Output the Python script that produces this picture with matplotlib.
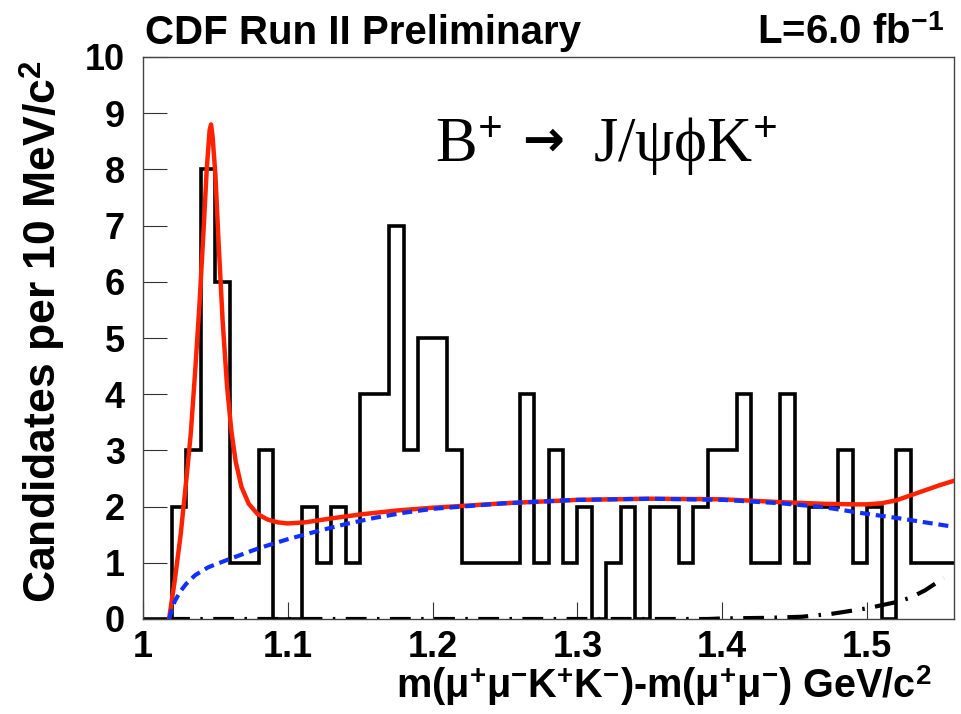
import numpy as np
import matplotlib
matplotlib.use("Agg")
import matplotlib.pyplot as plt

# histogram contents, 10 MeV bins from 1.00 to 1.56
bin_edges = np.linspace(1.0, 1.56, 57)
counts = [0, 0, 2, 3, 8, 6, 1, 1, 3, 0,
          0, 2, 1, 2, 1, 4, 4, 7, 3, 5,
          5, 3, 1, 1, 1, 1, 4, 1, 3, 1,
          2, 0, 1, 2, 0, 2, 2, 1, 2, 3,
          3, 4, 1, 1, 4, 1, 2, 2, 3, 1,
          2, 0, 3, 1, 1, 1]

# total fit (red)
fit_x = [1.018, 1.022, 1.026, 1.030, 1.033, 1.036, 1.039, 1.042, 1.044, 1.046,
         1.047, 1.048, 1.050, 1.052, 1.055, 1.058, 1.061, 1.064, 1.068, 1.073,
         1.079, 1.086, 1.093, 1.100, 1.112, 1.130, 1.150, 1.175, 1.200, 1.250,
         1.300, 1.350, 1.400, 1.440, 1.470, 1.490, 1.500, 1.510, 1.520, 1.530,
         1.540, 1.550, 1.560]
fit_y = [0.0, 0.7, 1.5, 2.5, 3.3, 4.4, 5.6, 7.0, 8.0, 8.7,
         8.8, 8.6, 7.9, 6.8, 5.3, 4.15, 3.35, 2.8, 2.35, 2.05,
         1.87, 1.77, 1.72, 1.70, 1.72, 1.79, 1.86, 1.93, 1.98, 2.06,
         2.12, 2.14, 2.13, 2.08, 2.05, 2.04, 2.04, 2.06, 2.11, 2.20,
         2.29, 2.38, 2.46]

# background (blue dashed)
bkg_x = [1.018, 1.020, 1.022, 1.026, 1.030, 1.036, 1.045, 1.060, 1.080, 1.100,
         1.120, 1.140, 1.160, 1.180, 1.200, 1.250, 1.300, 1.350, 1.400, 1.440,
         1.470, 1.500, 1.520, 1.540, 1.560]
bkg_y = [0.0, 0.18, 0.32, 0.5, 0.63, 0.78, 0.92, 1.07, 1.26, 1.42,
         1.56, 1.69, 1.80, 1.89, 1.96, 2.06, 2.12, 2.14, 2.12, 2.06,
         1.99, 1.87, 1.80, 1.72, 1.64]

# other component (black dash-dot)
oth_x = [1.018, 1.390, 1.400, 1.430, 1.455, 1.475, 1.490, 1.500, 1.520, 1.530, 1.540, 1.553]
oth_y = [0.0, 0.0, 0.01, 0.02, 0.04, 0.09, 0.15, 0.19, 0.30, 0.38, 0.51, 0.73]

xticks = [1.0, 1.1, 1.2, 1.3, 1.4, 1.5]
xtick_labels = ["1", "1.1", "1.2", "1.3", "1.4", "1.5"]
yticks = list(range(11))

plt.rcParams['font.family'] = ['Liberation Sans', 'DejaVu Sans']
plt.rcParams['font.weight'] = 'bold'
plt.rcParams['mathtext.fontset'] = 'custom'
plt.rcParams['mathtext.rm'] = 'Liberation Serif'
plt.rcParams['mathtext.it'] = 'Liberation Serif:italic'
plt.rcParams['mathtext.bf'] = 'Liberation Sans:bold'

W, H = 961, 714
fig = plt.figure(figsize=(W / 100, H / 100), dpi=100)
ax = fig.add_axes([143 / W, 95 / H, 811 / W, 562 / H])

ax.stairs(counts, bin_edges, baseline=None, color='black', lw=2.6, zorder=2)
ax.plot(oth_x, oth_y, color='black', lw=3, ls=(0, (5, 2.5, 0.6, 2.5)), zorder=3)
ax.plot(fit_x, fit_y, color='#ff2200', lw=3.2, zorder=4)
ax.plot(bkg_x, bkg_y, color='#1030ff', lw=3, ls=(0, (2.4, 1.4)), zorder=5)

ax.set_xlim(1.0, 1.56)
ax.set_ylim(0, 10)
ax.set_xticks(xticks)
ax.set_xticklabels(xtick_labels)
ax.set_yticks(yticks)
ax.tick_params(axis='x', direction='in', length=12, width=0.8, pad=8,
               labelsize=26, color='#333333')
ax.tick_params(axis='y', direction='in', length=17, width=0.8, pad=13,
               labelsize=26, color='#333333')
for s in ax.spines.values():
    s.set_linewidth(1.0)
    s.set_color('#444444')

# texts
fig.text(145 / W, 1 - 44 / H, "CDF Run II Preliminary", fontsize=29,
         fontweight='bold', ha='left', va='baseline')
fig.text(944 / W, 1 - 44 / H, r"L=6.0 fb$^{\mathbf{-1}}$", fontsize=29,
         fontweight='bold', ha='right', va='baseline')
fig.text(42 / W, 1 - 60 / H, r"Candidates per 10 MeV/c$^{\mathbf{2}}$",
         fontsize=32, fontweight='bold', rotation=90, ha='center', va='top')
fig.text(932 / W, 1 - 698 / H,
         r"m(μ$^{\mathbf{+}}$μ$^{\mathbf{-}}$K$^{\mathbf{+}}$K$^{\mathbf{-}}$)"
         r"-m(μ$^{\mathbf{+}}$μ$^{\mathbf{-}}$) GeV/c$^{\mathbf{2}}$",
         fontsize=28.5, fontweight='bold', ha='right', va='baseline')

# decay label
fig.text(435 / W, 1 - 162 / H, r"B$^{+}$", fontsize=45, fontweight='normal',
         family=['Liberation Serif', 'DejaVu Serif'], ha='left', va='baseline')
fig.text(543 / W, 1 - 142 / H, "→", fontsize=36, fontweight='bold',
         family=['DejaVu Sans'], ha='center', va='center')
fig.text(593 / W, 1 - 162 / H, r"J/ψϕK$^{+}$", fontsize=45, fontweight='normal',
         family=['Liberation Serif', 'DejaVu Serif'], ha='left', va='baseline')

fig.savefig("out.png", dpi=100)
